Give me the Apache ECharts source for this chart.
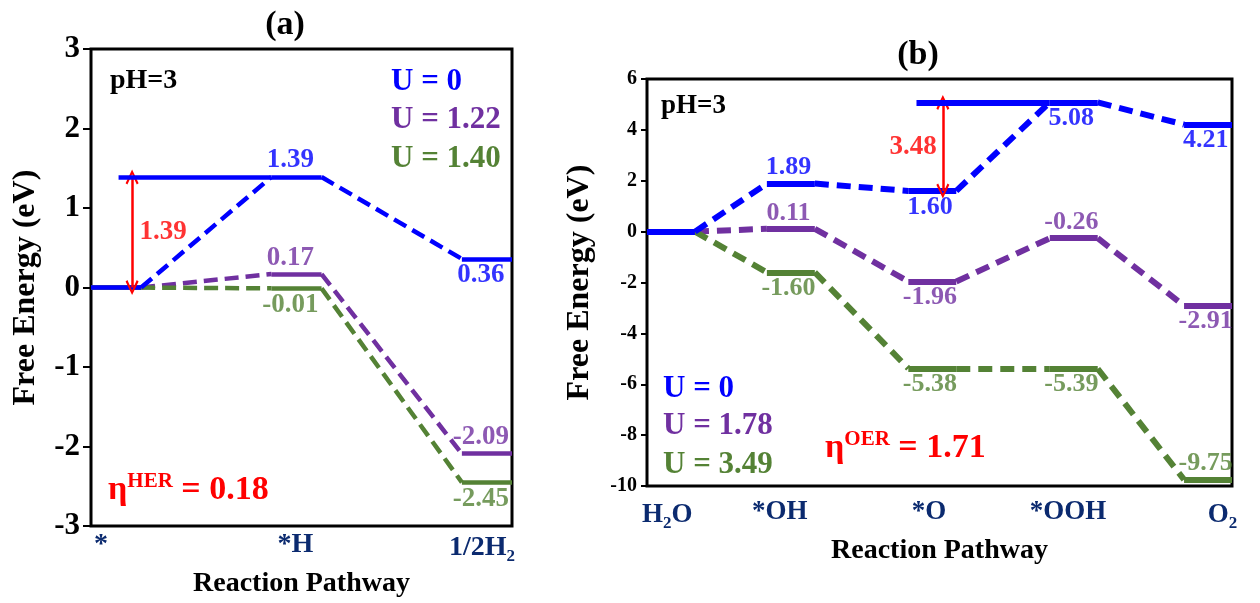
<!doctype html>
<html>
<head>
<meta charset="utf-8">
<title>Free Energy Diagram</title>
<script src="https://cdn.jsdelivr.net/npm/echarts@6/dist/echarts.min.js"></script>
<style>
  html, body { margin: 0; padding: 0; background: #fff; }
  #main { width: 1260px; height: 603px; }
</style>
</head>
<body>
<div id="main"></div>
<script type="text/javascript">
// (a) HER, pH = 3
var pH = 3;
var herSteps = ['*', '*H', '1/2H2'];
var herU = ['U = 0', 'U = 1.22', 'U = 1.40'];
var herBlue = [0, 1.39, 0.36];
var herPurple = [0, 0.17, -2.09];
var herGreen = [0, -0.01, -2.45];
var herTicks = [-3, -2, -1, 0, 1, 2, 3];
var herGap = 1.39;
var herEta = 0.18;

// (b) OER, pH = 3
var oerSteps = ['H2O', '*OH', '*O', '*OOH', 'O2'];
var oerU = ['U = 0', 'U = 1.78', 'U = 3.49'];
var oerBlue = [0, 1.89, 1.60, 5.08, 4.21];
var oerPurple = [0, 0.11, -1.96, -0.26, -2.91];
var oerGreen = [0, -1.60, -5.38, -5.39, -9.75];
var oerTicks = [-10, -8, -6, -4, -2, 0, 2, 4, 6];
var oerGap = 3.48;
var oerEta = 1.71;

// layout (x in axis units, one level is 1 wide)
var herStart = [0, 3.6, 7.4];
var herLabelX = [0.2, 4.08, 7.8];
var oerStart = [0, 2.5, 5.45, 8.4, 11.2];
var oerLabelX = [0.42, 2.77, 5.88, 8.78, 12.0];
var herPos = [['', 'top', 'bottom'], ['', 'top', 'top'], ['', 'bottom', 'bottom']];
var oerPos = [['', 'top', 'bottom', 'bottom', 'bottom'],
              ['', 'top', 'bottom', 'top', 'bottom'],
              ['', 'bottom', 'bottom', 'bottom', 'top']];

var F = "'Liberation Serif','Times New Roman',serif";
var BLUE = '#0000ff', PURPLE = '#7030a0', GREEN = '#548235', RED = '#ff0000', NAVY = '#0b2a6f';
var vArrow = 'path://M5,0 L10,10 L8.6,11 L5,3.4 L1.4,11 L0,10 Z';

var myChart = echarts.init(document.getElementById('main'));

function sub(s) {
    return s.replace(/H2/g, 'H{s|2}').replace(/O2$/, 'O{s|2}');
}

// levels solid, connectors dashed
function pathway(gi, values, starts, color, lw, dash, z) {
    var lv = [], cn = [];
    for (var i = 0; i < values.length; i++) {
        lv.push({coords: [[starts[i], values[i]], [starts[i] + 1, values[i]]]});
        if (i > 0) cn.push({coords: [[starts[i - 1] + 1, values[i - 1]], [starts[i], values[i]]]});
    }
    var base = {type: 'lines', coordinateSystem: 'cartesian2d', xAxisIndex: gi, yAxisIndex: gi,
                silent: true, z: z};
    return [
        Object.assign({}, base, {data: lv, lineStyle: {color: color, width: lw, opacity: 1, curveness: 0, cap: 'butt'}}),
        Object.assign({}, base, {data: cn, lineStyle: {color: color, width: lw, opacity: 1, curveness: 0, type: dash, cap: 'butt'}})
    ];
}

function labels(gi, values, starts, pos, color, dx, size, z) {
    var d = [];
    for (var i = 1; i < values.length; i++) {
        d.push({value: [starts[i] + 0.5 + dx, values[i]], label: {position: pos[i]}});
    }
    return {type: 'scatter', xAxisIndex: gi, yAxisIndex: gi, symbolSize: 0, silent: true, z: z,
            data: d,
            label: {show: true, distance: 3, color: color, fontFamily: F, fontWeight: 'bold', fontSize: size,
                    formatter: function (p) { return p.value[1].toFixed(2); }}};
}

function gapArrow(gi, x, y0, y1, lx, txt, extFrom, extTo, lw) {
    return [
        {type: 'lines', coordinateSystem: 'cartesian2d', xAxisIndex: gi, yAxisIndex: gi, silent: true, z: 6,
         data: [{coords: [[extFrom, y1], [extTo, y1]]}],
         lineStyle: {color: BLUE, width: lw, opacity: 1, curveness: 0}},
        {type: 'scatter', xAxisIndex: gi, yAxisIndex: gi, symbolSize: 0, silent: true, z: 7,
         data: [[lx, (y0 + y1) / 2]],
         label: {show: true, position: 'inside', color: RED, fontFamily: F, fontWeight: 'bold', fontSize: 27,
                 formatter: txt},
         markLine: {silent: true, symbol: [vArrow, vArrow], symbolSize: [13, 15],
                    lineStyle: {color: RED, width: 2.5, type: 'solid'}, label: {show: false},
                    data: [[{coord: [x, y0]}, {coord: [x, y1]}]]}}
    ];
}

function xAxisOf(gi, max, ticksX, names, size, margin, gap) {
    return {gridIndex: gi, type: 'value', min: 0, max: max,
            splitLine: {show: false}, axisLine: {show: false}, axisTick: {show: false},
            axisLabel: {customValues: ticksX, margin: margin, color: NAVY, fontFamily: F, fontWeight: 'bold', fontSize: size,
                        formatter: function (v) {
                            var i = ticksX.indexOf(v);
                            return i < 0 ? '' : sub(names[i]);
                        },
                        rich: {s: {fontSize: Math.round(size * 0.62), color: NAVY, fontFamily: F, fontWeight: 'bold',
                                   padding: [Math.round(size * 0.6), 0, 0, 0]}}},
            name: 'Reaction Pathway', nameLocation: 'middle', nameGap: gap,
            nameTextStyle: {color: '#000', fontFamily: F, fontWeight: 'bold', fontSize: 28}};
}

function yAxisOf(gi, ticks, interval, size, tick, margin, gap) {
    return {gridIndex: gi, type: 'value', min: ticks[0], max: ticks[ticks.length - 1], interval: interval,
            splitLine: {show: false}, axisLine: {show: false},
            axisTick: {show: true, length: tick, lineStyle: {color: '#000', width: 2}},
            axisLabel: {color: '#000', fontFamily: F, fontWeight: 'bold', fontSize: size, margin: margin},
            name: 'Free Energy (eV)', nameLocation: 'middle', nameGap: gap,
            nameTextStyle: {color: '#000', fontFamily: F, fontWeight: 'bold', fontSize: 32}};
}

function txt(x, y, s, color, size) {
    return {type: 'text', left: x, top: y, z: 20,
            style: {text: s, fill: color, font: 'bold ' + size + 'px ' + F}};
}

function etaText(x, y, name, val) {
    var r = {e: {fill: RED, fontSize: 34, fontFamily: F, fontWeight: 'bold'},
             s: {fill: RED, fontSize: 21, fontFamily: F, fontWeight: 'bold', padding: [0, 0, 17, 0]}};
    return {type: 'text', x: x, y: y, z: 20,
            style: {text: '{e|η}{s|' + name + '}{e| = ' + val.toFixed(2) + '}', rich: r, verticalAlign: 'middle'}};
}

var series = [];
// panel (a)
series = series.concat(pathway(0, herPurple, herStart, PURPLE, 4.5, [14, 7], 2));
series = series.concat(pathway(0, herGreen, herStart, GREEN, 4.5, [14, 7], 3));
series = series.concat(pathway(0, herBlue, herStart, BLUE, 4.5, [14, 7], 4));
series = series.concat(gapArrow(0, 0.82, 0, herGap, 1.44, herGap.toFixed(2), 0.55, herStart[1], 4.5));
series.push(labels(0, herBlue, herStart, herPos[0], BLUE, -0.12, 27, 10));
series.push(labels(0, herPurple, herStart, herPos[1], PURPLE, -0.12, 27, 10));
series.push(labels(0, herGreen, herStart, herPos[2], GREEN, -0.12, 27, 10));
// panel (b)
series = series.concat(pathway(1, oerPurple, oerStart, PURPLE, 6, [14, 8], 2));
series = series.concat(pathway(1, oerGreen, oerStart, GREEN, 6, [14, 8], 3));
series = series.concat(pathway(1, oerBlue, oerStart, BLUE, 6, [14, 8], 4));
series = series.concat(gapArrow(1, 6.17, oerBlue[2], oerBlue[2] + oerGap, 5.55, oerGap.toFixed(2), 5.62, oerStart[3], 6));
series.push(labels(1, oerBlue, oerStart, oerPos[0], BLUE, -0.05, 26, 10));
series.push(labels(1, oerPurple, oerStart, oerPos[1], PURPLE, -0.05, 26, 10));
series.push(labels(1, oerGreen, oerStart, oerPos[2], GREEN, -0.05, 26, 10));

var uColors = [BLUE, PURPLE, GREEN];
var graphics = [
    {type: 'text', x: 285, y: 25, style: {text: '(a)', fill: '#000', font: 'bold 34px ' + F, align: 'center', verticalAlign: 'middle'}},
    {type: 'text', x: 918, y: 55, style: {text: '(b)', fill: '#000', font: 'bold 34px ' + F, align: 'center', verticalAlign: 'middle'}},
    txt(110, 67, 'pH=' + pH, '#000', 28),
    txt(661, 93, 'pH=' + pH, '#000', 27),
    etaText(108, 490, 'HER', herEta),
    etaText(825, 448, 'OER', oerEta)
];
var herLegY = [80, 118, 157], oerLegY = [387, 424, 463];
for (var k = 0; k < 3; k++) {
    graphics.push(txt(391, herLegY[k] - 14, herU[k], uColors[k], 31));
    graphics.push(txt(663, oerLegY[k] - 14, oerU[k], uColors[k], 31));
}

option = {
    animation: false,
    backgroundColor: '#fff',
    grid: [
        {left: 91, top: 49, width: 421, height: 485, show: true, borderColor: '#000', borderWidth: 3, backgroundColor: 'transparent'},
        {left: 647, top: 79, width: 585, height: 407, show: true, borderColor: '#000', borderWidth: 3, backgroundColor: 'transparent'}
    ],
    xAxis: [
        xAxisOf(0, 8.4, herLabelX, herSteps, 28, 5, 35),
        xAxisOf(1, 12.2, oerLabelX, oerSteps, 27, 13, 48)
    ],
    yAxis: [
        yAxisOf(0, herTicks, 1, 31, 8, 11, 49),
        yAxisOf(1, oerTicks, 2, 20, 6, 10, 51)
    ],
    graphic: graphics,
    series: series
};

myChart.setOption(option);
</script>
</body>
</html>
